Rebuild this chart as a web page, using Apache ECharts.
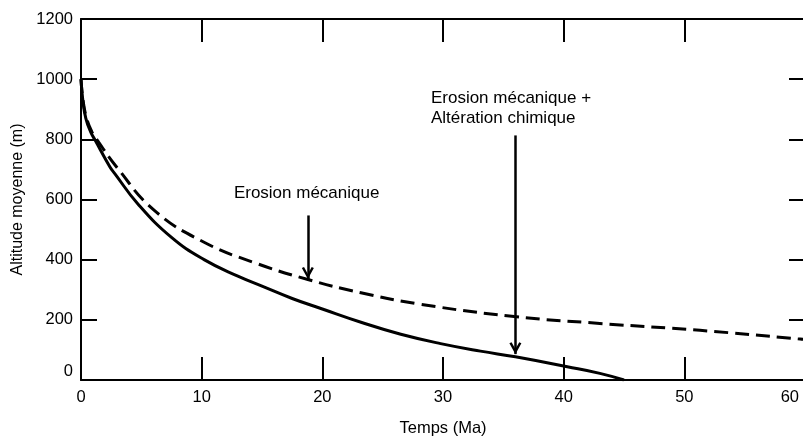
<!DOCTYPE html>
<html>
<head>
<meta charset="utf-8">
<script src="https://cdn.jsdelivr.net/npm/echarts@6/dist/echarts.min.js"></script>
<style>
html, body { margin: 0; padding: 0; background: #fff; }
#chart { width: 803px; height: 441px; }
</style>
</head>
<body>
<div id="chart"></div>
<script>
// axes
const xTicks = [0, 10, 20, 30, 40, 50, 60];
const yTicks = [0, 200, 400, 600, 800, 1000, 1200];

// Erosion mécanique + Altération chimique (solid)
const tempsChim = [0, 0.15, 0.4, 0.8, 1.2, 2.4, 2.8, 4.7, 7.5, 10.2, 13.0, 15.0, 17.5, 20.0, 23.2, 26.5, 29.8, 33.1, 36.0, 40.3, 43.0, 45.0];
const altChim   = [1000, 930, 870, 825, 795, 708, 686, 586, 474, 400, 345, 312, 271, 236, 192, 152, 121, 96, 77, 44, 22, 0];

// Erosion mécanique (dashed)
const tempsMeca = [0, 0.15, 0.45, 0.9, 1.3, 2.95, 6.1, 10.2, 14.3, 18.8, 23.2, 28.1, 35.9, 43.0, 51.3, 59.6, 61];
const altMeca   = [1000, 935, 872, 825, 800, 708, 563, 458, 391, 334, 290, 252, 211, 188, 165, 136, 130];

// arrows: [x, yStart, yTip]
const arrows = [
    [18.8, 547, 336],
    [36.0, 813, 86]
];
// annotation texts and anchor [x, y]
const noteTexts = ['Erosion mécanique', 'Erosion mécanique +\nAltération chimique'];
const notePos = [[18.7, 620], [29.0, 903]];

const font = "'Liberation Sans', Arial, sans-serif";
const ink = '#000';

function pairs(xs, ys) {
    return xs.map((x, i) => [x, ys[i]]);
}

const chart = echarts.init(document.getElementById('chart'));

const xBase = {
    type: 'value',
    min: xTicks[0],
    max: xTicks[xTicks.length - 1],
    interval: xTicks[1] - xTicks[0],
    splitLine: { show: false },
    axisLine: { onZero: false, lineStyle: { color: ink, width: 2 } },
    axisTick: { inside: true, length: 23, lineStyle: { color: ink, width: 2 } }
};
const yBase = {
    type: 'value',
    min: yTicks[0],
    max: yTicks[yTicks.length - 1],
    interval: yTicks[1] - yTicks[0],
    splitLine: { show: false },
    axisLine: { onZero: false, lineStyle: { color: ink, width: 2 } },
    axisTick: { inside: true, length: 16, lineStyle: { color: ink, width: 2 } }
};

// arrow head pointing up, tip at top
const head = 'path://M5,0L10,9L8.2,10L5,4.2L1.8,10L0,9Z';
const lastX = xTicks[xTicks.length - 1];

chart.setOption({
    animation: false,
    backgroundColor: '#fff',
    textStyle: { fontFamily: font },
    grid: { left: 81, right: -2, top: 19, bottom: 61, containLabel: false, outerBoundsMode: 'none' },
    xAxis: [
        Object.assign({}, xBase, {
            position: 'bottom',
            name: 'Temps (Ma)',
            nameLocation: 'middle',
            nameGap: 40,
            nameTextStyle: { color: ink, fontSize: 16.5, fontFamily: font },
            axisLabel: {
                color: ink, fontSize: 16.5, fontFamily: font, margin: 9,
                alignMaxLabel: 'right',
                formatter: v => v === lastX ? '{r|' + v + '}' : String(v),
                rich: { r: { color: ink, fontSize: 16.5, fontFamily: font, padding: [0, 6, 0, 0] } }
            }
        }),
        Object.assign({}, xBase, { position: 'top', axisLabel: { show: false } })
    ],
    yAxis: [
        Object.assign({}, yBase, {
            position: 'left',
            name: 'Altitude moyenne (m)',
            nameLocation: 'middle',
            nameGap: 43,
            nameTextStyle: { color: ink, fontSize: 16, fontFamily: font },
            axisLabel: {
                color: ink, fontSize: 16.5, fontFamily: font, margin: 8,
                verticalAlignMinLabel: 'bottom',
                formatter: v => String(v)
            }
        }),
        Object.assign({}, yBase, { position: 'right', axisLabel: { show: false } })
    ],
    series: [
        {
            name: 'Erosion mécanique + Altération chimique',
            type: 'line',
            data: pairs(tempsChim, altChim),
            showSymbol: false,
            smooth: 0.45,
            lineStyle: { color: ink, width: 3 },
            markLine: {
                silent: true,
                symbol: ['none', head],
                symbolSize: [12, 12],
                symbolOffset: [[0, 0], [0, 6]],
                label: { show: false },
                lineStyle: { color: ink, width: 2.5, type: 'solid' },
                data: arrows.map(a => [{ coord: [a[0], a[1]] }, { coord: [a[0], a[2]] }])
            }
        },
        {
            name: 'Erosion mécanique',
            type: 'line',
            data: pairs(tempsMeca, altMeca),
            showSymbol: false,
            smooth: 0.45,
            lineStyle: { color: ink, width: 3, type: [14, 7] }
        }
    ]
});

// annotation texts placed through the chart's own scales
const aligns = ['center', 'left'];
chart.setOption({
    graphic: noteTexts.map((t, i) => {
        const p = chart.convertToPixel({ xAxisIndex: 0, yAxisIndex: 0 }, notePos[i]);
        return {
            type: 'text',
            x: p[0],
            y: p[1],
            style: {
                text: t,
                fill: ink,
                font: '17px ' + font,
                lineHeight: 20,
                align: aligns[i],
                verticalAlign: 'middle'
            }
        };
    })
});
</script>
</body>
</html>
